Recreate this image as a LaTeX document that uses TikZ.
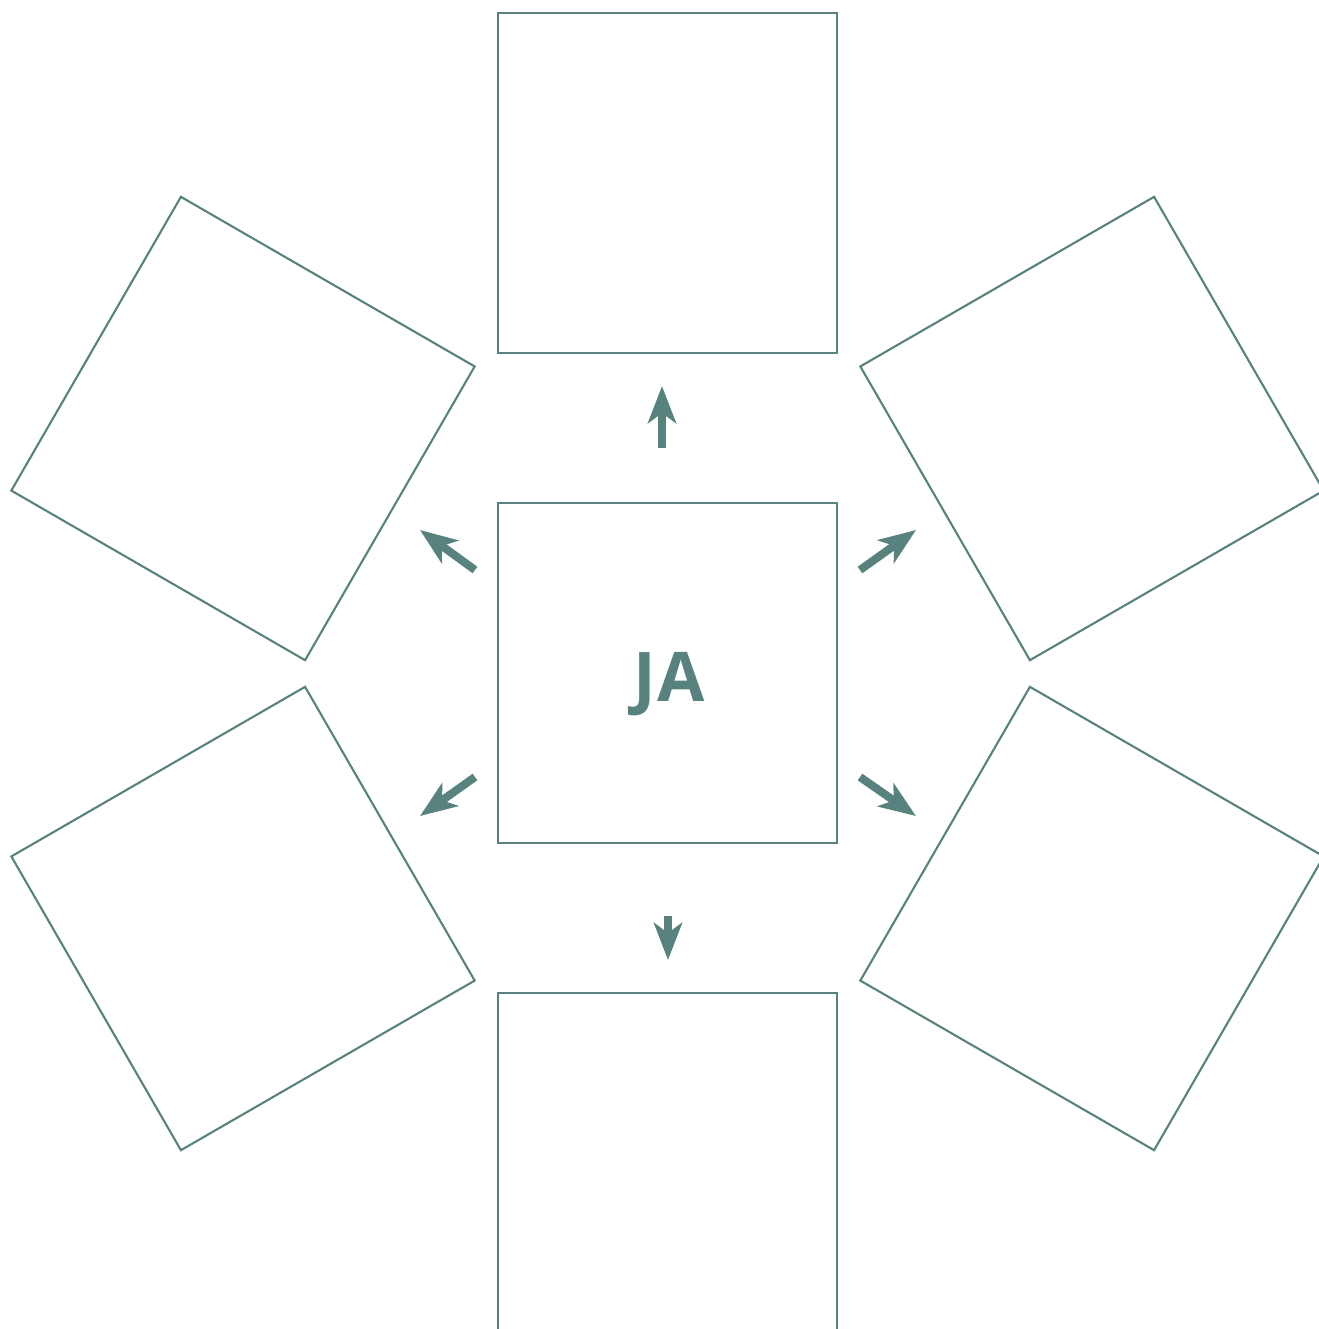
\documentclass[tikz,border=0pt]{standalone}
\usepackage{fontspec}
\setmainfont{Open Sans}
\usetikzlibrary{calc,positioning,arrows.meta}
\definecolor{teal}{RGB}{88,130,126}

\begin{document}
\begin{tikzpicture}[x=0.01cm,y=-0.01cm,
  every node/.style={inner sep=0pt},
  box/.style={draw=teal,line width=0.6pt,minimum size=3.39cm,shape=rectangle},
  push/.style={draw=teal,line width=2.3pt,-{Stealth[length=0.37cm,width=0.28cm,inset=0.1cm,fill=teal]}}]
  \clip (0,0) rectangle (1319,1329);
  \node[box] (ja) at (667.5,673) {};
  \node[font=\bfseries\fontsize{19.5}{24}\selectfont,text=teal,anchor=base] (lbl) at (669.5,701) {J\kern0.3ptA};
  \node[box] (t) at ($(ja)+(0,-490)$) {};
  \node[box] (b) at ($(ja)+(0,490)$) {};
  \node[box,rotate=-30] (tl) at ($(ja)+(-424.5,-244.5)$) {};
  \node[box,rotate=30] (tr) at ($(ja)+(424.5,-244.5)$) {};
  \node[box,rotate=30] (bl) at ($(ja)+(-424.5,245.5)$) {};
  \node[box,rotate=-30] (br) at ($(ja)+(424.5,245.5)$) {};
  % arrow ends
  \coordinate (t0) at (662,448); \coordinate (t1) at (662,386);
  \coordinate (b0) at (668,916); \coordinate (b1) at (668,960);
  \coordinate (tl0) at (475,570); \coordinate (tl1) at (420,530);
  \coordinate (tr0) at (860,570); \coordinate (tr1) at (916,530);
  \coordinate (bl0) at (475,777); \coordinate (bl1) at (420,816);
  \coordinate (br0) at (860,777); \coordinate (br1) at (916,816);
  \draw[push] (t0)--(t1); \draw[push] (b0)--(b1);
  \draw[push] (tl0)--(tl1); \draw[push] (tr0)--(tr1);
  \draw[push] (bl0)--(bl1); \draw[push] (br0)--(br1);
\end{tikzpicture}
\end{document}
